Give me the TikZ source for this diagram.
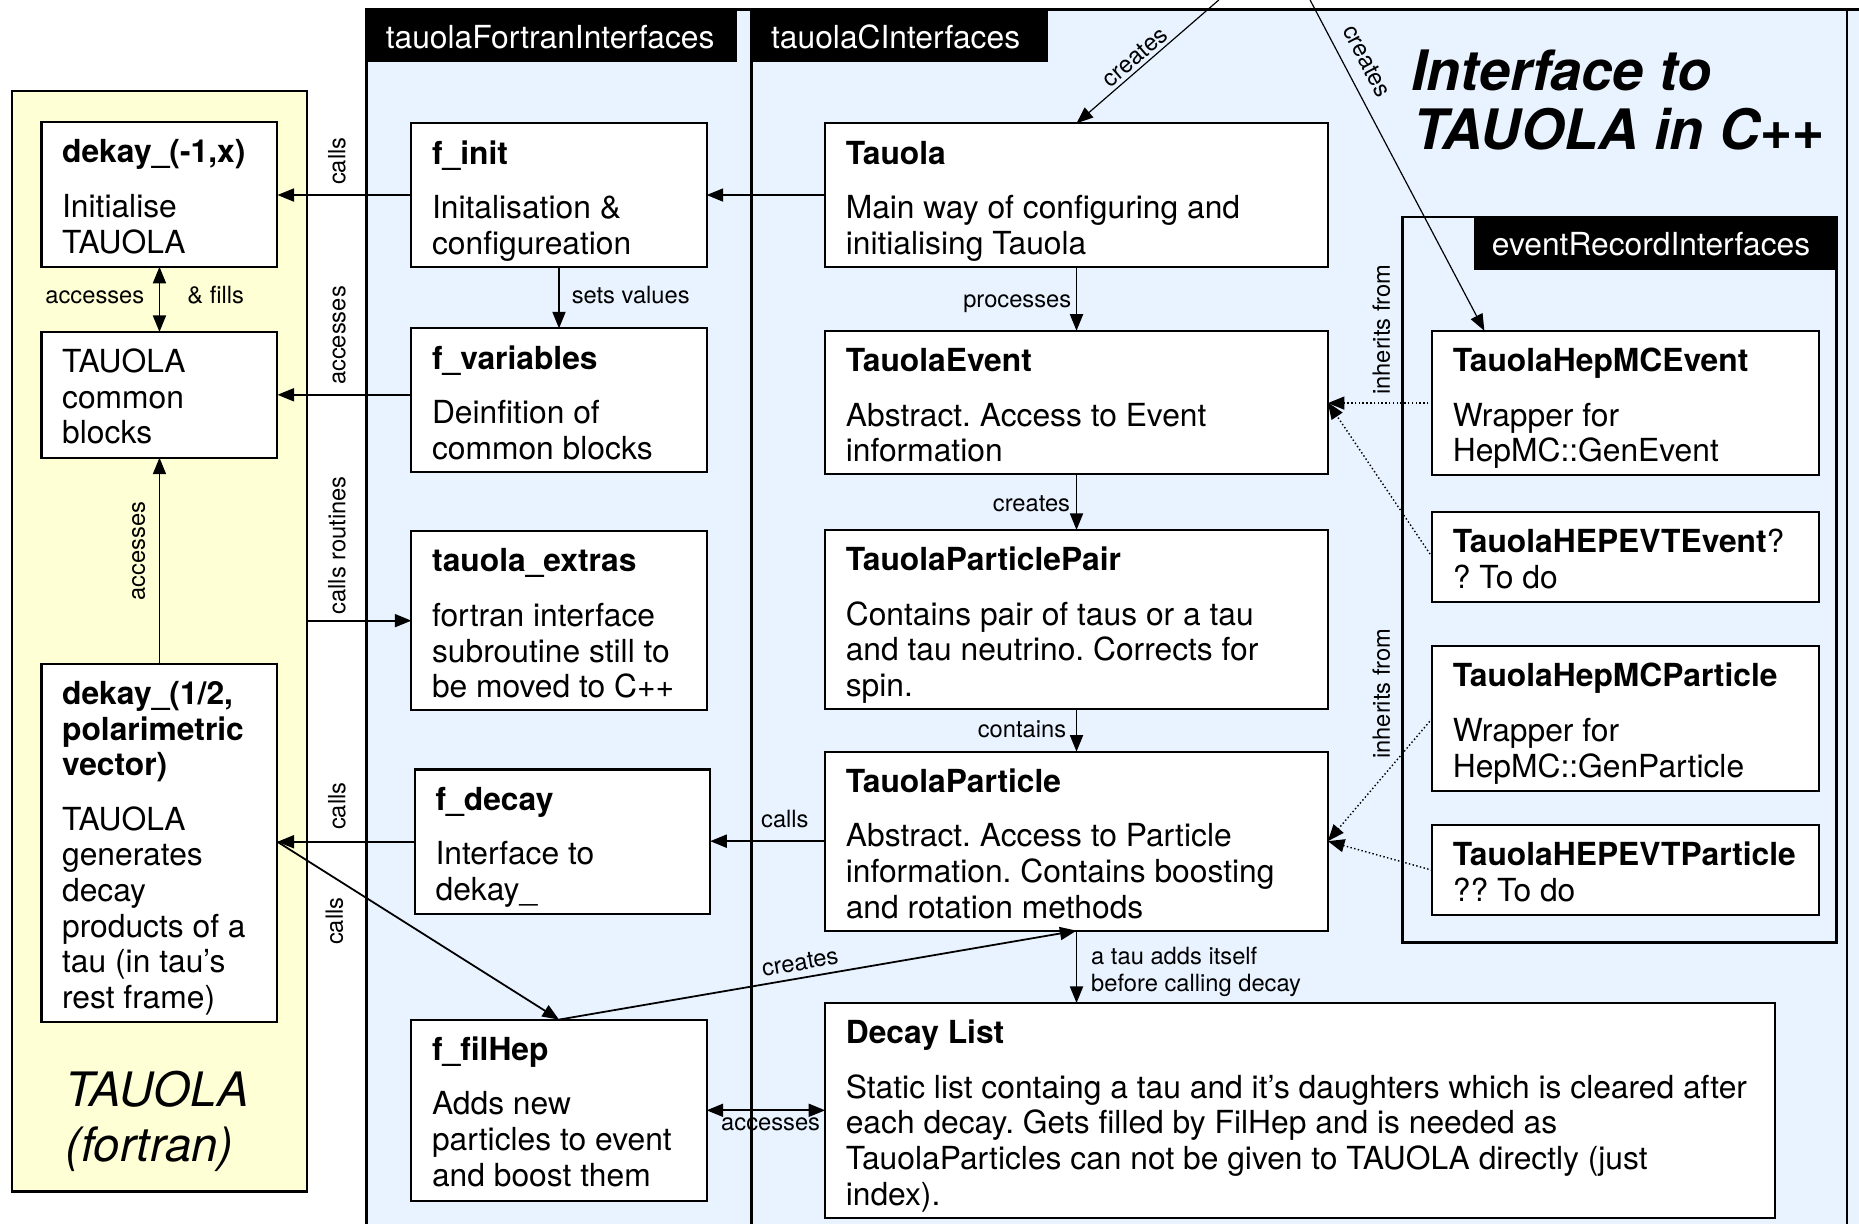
\documentclass[tikz,border=0pt]{standalone}
\usepackage{fontspec}
\setmainfont{TeX Gyre Heros}
\usetikzlibrary{arrows.meta,calc}
\definecolor{ybg}{RGB}{255,255,214}
\definecolor{bbg}{RGB}{232,243,255}
\frenchspacing
\newcommand\ttl[1]{\rule{0pt}{11pt}\textbf{#1}}
\newcommand\ubox[6]{%
  \node[box, minimum width={(#4-#2)*0.5pt}, minimum height={(#5-#3)*0.5pt}] (#1) at (#2,#3) {};
  \node[txt] (#1-t) at ($(#1.north west)+(17,12)$) {#6};}
\begin{document}
\begin{tikzpicture}[x=0.5pt,y=-0.5pt,
  box/.style={draw=black, line width=0.9pt, fill=white, inner sep=0pt, outer sep=0pt, anchor=north west},
  txt/.style={anchor=north west, inner sep=0pt, align=left, font=\fontsize{13.4}{15}\selectfont\frenchspacing},
  lbl/.style={inner sep=0pt, text height=5.3pt, text depth=0pt, font=\fontsize{10}{11.5}\selectfont},
  hdr/.style={fill=black, inner sep=0pt, outer sep=0pt, anchor=north west},
  hdrtxt/.style={text=white, inner sep=0pt, anchor=west, font=\fontsize{13.4}{15}\selectfont},
  panel/.style={draw=black, line width=1pt, inner sep=0pt, outer sep=0pt, anchor=north west},
  arr/.style={line width=0.75pt, -{Triangle[length=7pt,width=5.5pt]}},
  arrb/.style={line width=0.75pt, {Triangle[length=7pt,width=5.5pt]}-{Triangle[length=7pt,width=5.5pt]}},
  darr/.style={line width=0.6pt, densely dotted, -{Triangle[length=7pt,width=5.5pt]}},
  tarr/.style={line width=0.5pt, -{Triangle[length=7pt,width=5.5pt]}},
]
\useasboundingbox (0,0) rectangle (1568,1032);
\fill[white] (0,0) rectangle (1568,1032);

% blue interface region
\fill[bbg] (309,8) rectangle (1568,1032);
\draw[line width=1pt] (309,1032) -- (309,8) -- (1568,8);
\draw[line width=1pt] (634,8) -- (634,1032);
\draw[line width=0.6pt] (1558,8) -- (1558,1032);

% headers
\node[hdr, minimum width={(622-309)*0.5pt}, minimum height={(52-8)*0.5pt}] (hF) at (309,8) {};
\node[hdrtxt] (hFt) at (325,31) {tauolaFortranInterfaces};
\node[hdr, minimum width={(884-634)*0.5pt}, minimum height={(52-8)*0.5pt}] (hC) at (634,8) {};
\node[hdrtxt] (hCt) at (650,31) {tauolaCInterfaces};

% yellow TAUOLA panel
\node[panel, fill=ybg, minimum width={(259-10)*0.5pt}, minimum height={(1005-77)*0.5pt}] (tf) at (10,77) {};
\node[anchor=base west, inner sep=0pt, font=\fontsize{20}{23}\selectfont\itshape] (tfa) at (55,933) {TAUOLA};
\node[anchor=base west, inner sep=0pt, font=\fontsize{20}{23}\selectfont\itshape] (tfb) at (55,980) {(fortran)};

% event record panel
\node[panel, fill=bbg, minimum width={(1549-1183)*0.5pt}, minimum height={(795-183)*0.5pt}] (erp) at (1183,183) {};
\node[hdr, minimum width={(1549-1243)*0.5pt}, minimum height={(228-183)*0.5pt}] (hE) at (1243,183) {};
\node[hdrtxt] (hEt) at (1258,206) {eventRecordInterfaces};

% title
\node[anchor=base west, inner sep=0pt, font=\fontsize{23.5}{25}\selectfont\bfseries\itshape] (ti1) at (1190,76) {Interface to};
\node[anchor=base west, inner sep=0pt, font=\fontsize{23.5}{25}\selectfont\bfseries\itshape] (ti2) at (1192,126) {TAUOLA in C++};

% fortran boxes
\ubox{dk1}{35}{103}{234}{225}{\ttl{dekay\_(-1,x)}\\[8pt]Initialise\\TAUOLA}
\ubox{cb}{35}{280}{234}{386}{\rule{0pt}{11pt}TAUOLA\\common\\blocks}
\ubox{dk2}{35}{560}{234}{862}{\ttl{dekay\_(1/2,}\\\textbf{polarimetric}\\\textbf{vector)}\\[8pt]TAUOLA\\generates\\decay\\products of a\\tau (in tau’s\\rest frame)}

\ubox{finit}{347}{104}{596}{225}{\ttl{f\_init}\\[8pt]Initalisation \&\\configureation}
\ubox{fvar}{347}{277}{596}{398}{\ttl{f\_variables}\\[8pt]Deinfition of\\common blocks}
\ubox{extras}{347}{448}{596}{599}{\ttl{tauola\_extras}\\[8pt]fortran interface\\subroutine still to\\be moved to C++}
\ubox{fdecay}{350}{649}{599}{771}{\ttl{f\_decay}\\[8pt]Interface to\\dekay\_}
\ubox{ffilhep}{347}{860}{596}{1013}{\ttl{f\_filHep}\\[8pt]Adds new\\particles to event\\and boost them}

% C++ boxes
\ubox{tauola}{696}{104}{1120}{225}{\ttl{Tauola}\\[8pt]Main way of configuring and\\initialising Tauola}
\ubox{tevent}{696}{279}{1120}{400}{\ttl{TauolaEvent}\\[8pt]Abstract. Access to Event\\information}
\ubox{pair}{696}{447}{1120}{598}{\ttl{TauolaParticlePair}\\[8pt]Contains pair of taus or a tau\\and tau neutrino. Corrects for\\spin.}
\ubox{tpart}{696}{634}{1120}{785}{\ttl{TauolaParticle}\\[8pt]Abstract. Access to Particle\\information. Contains boosting\\and rotation methods}
\ubox{decay}{696}{846}{1497}{1027}{\ttl{Decay List}\\[8pt]Static list containg a tau and it’s daughters which is cleared after\\each decay. Gets filled by FilHep and is needed as\\TauolaParticles can not be given to TAUOLA directly (just\\index).}

% event record boxes
\ubox{hepmcev}{1208}{279}{1534}{401}{\ttl{TauolaHepMCEvent}\\[8pt]Wrapper for\\HepMC::GenEvent}
\ubox{hepevtev}{1208}{432}{1534}{508}{\ttl{TauolaHEPEVTEvent}?\\? To do}
\ubox{hepmcpart}{1208}{545}{1534}{667}{\ttl{TauolaHepMCParticle}\\[8pt]Wrapper for\\HepMC::GenParticle}
\ubox{hepevtpart}{1208}{696}{1534}{772}{\ttl{TauolaHEPEVTParticle}\\?? To do}

% connectors
\draw[arr] (finit.west) -- (finit.west -| dk1.east);
\draw[arrb] (dk1.south) -- (cb.north);
\draw[arr] (finit.south) -- (fvar.north);
\draw[arr] (fvar.west |- cb.east) -- (cb.east);
\draw[arr] (dk2.north) -- (cb.south);
\draw[arr] (tf.east |- extras.west) -- (extras.west);
\draw[arr] (fdecay.west) -- (fdecay.west -| dk2.east);
\draw[arr] (dk2.east |- fdecay.west) -- (ffilhep.north);
\draw[arr] (ffilhep.north) -- (tpart.south);
\draw[arrb] (ffilhep.east |- decay.west) -- (decay.west);
\draw[arr] (tauola.west) -- (tauola.west -| finit.east);
\draw[arr] (tauola.south) -- (tevent.north);
\draw[arr] (tevent.south) -- (pair.north);
\draw[arr] (pair.south) -- (tpart.north);
\draw[arr] (tpart.west) -- (tpart.west -| fdecay.east);
\draw[arr] (tpart.south) -- (tpart.south |- decay.north);
\draw[darr] (hepmcev.west) -- (hepmcev.west -| tevent.east);
\draw[darr] (hepevtev.west) -- (tevent.east);
\draw[darr] (hepmcpart.west) -- (tpart.east);
\draw[darr] (hepevtpart.west) -- (tpart.east);
\coordinate (src1) at (1028,0);
\coordinate (src2) at (1105,0);
\draw[tarr] (src1) -- (tauola.north);
\draw[tarr] (src2) -- ([xshift=22pt]hepmcev.north west);

% labels
\node[lbl, rotate=90] (lcalls1) at (286,136) {calls};
\node[lbl] (lacc1) at (80,251) {accesses};
\node[lbl] (lfills) at (182,251) {\& fills};
\node[lbl] (lsets) at (532,251) {sets values};
\node[lbl, rotate=90] (lacc2) at (286,283) {accesses};
\node[lbl, rotate=90] (lacc3) at (117,465) {accesses};
\node[lbl, rotate=90] (lcr) at (286,460) {calls routines};
\node[lbl, rotate=90] (lcalls2) at (286,680) {calls};
\node[lbl, rotate=90] (lcalls3) at (284,777) {calls};
\node[lbl, rotate=9.75] (lcre1) at (675,813) {creates};
\node[lbl] (lacc4) at (650,948) {accesses};
\node[lbl] (lcalls4) at (662,693) {calls};
\node[lbl] (lproc) at (858,254) {processes};
\node[lbl] (lcre2) at (870,426) {creates};
\node[lbl] (lcont) at (862,617) {contains};
\node[inner sep=0pt, font=\fontsize{10}{11.5}\selectfont, anchor=west, align=left] (ltau) at (920,820) {a tau adds itself\\before calling decay};
\node[lbl, rotate=40.9] (lcre3) at (958,49) {creates};
\node[lbl, rotate=-62.2] (lcre4) at (1152,52) {creates};
\node[lbl, rotate=90] (linh1) at (1167,278) {inherits from};
\node[lbl, rotate=90] (linh2) at (1167,585) {inherits from};
\end{tikzpicture}
\end{document}
